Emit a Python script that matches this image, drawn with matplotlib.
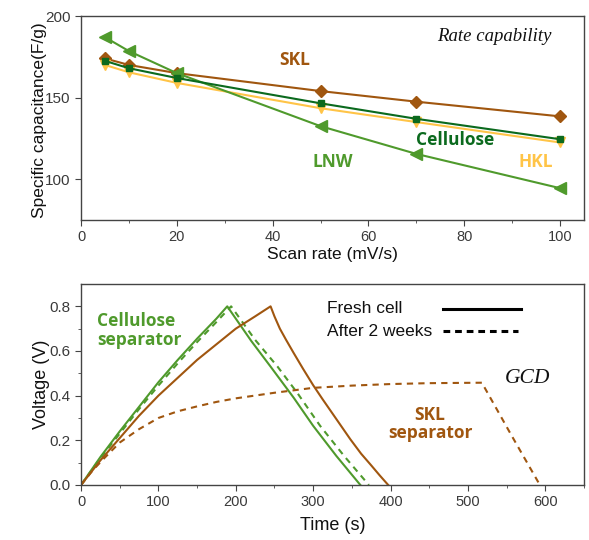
import matplotlib
matplotlib.use("Agg")
import matplotlib.pyplot as plt
from matplotlib.ticker import FormatStrFormatter

# ---------------- Data: rate capability ----------------
scan_rate = [5, 10, 20, 50, 70, 100]
skl_cap = [174, 170, 165, 154, 147.5, 138.5]
cellulose_cap = [172.5, 168, 162, 146.5, 137, 124.5]
hkl_cap = [170, 165.5, 159, 143.5, 135, 122.5]
lnw_cap = [187, 178.5, 165, 132.5, 115.5, 94.5]

# ---------------- Data: GCD ----------------
cell_fresh_t = [0, 25, 50, 75, 100, 125, 150, 175, 189, 220, 245, 275, 300, 330, 361]
cell_fresh_v = [0, 0.125, 0.24, 0.35, 0.46, 0.56, 0.655, 0.745, 0.80, 0.645, 0.53, 0.39, 0.265, 0.13, 0]
cell_aged_t = [0, 25, 50, 75, 100, 125, 150, 175, 194, 225, 254, 280, 309, 340, 372]
cell_aged_v = [0, 0.12, 0.23, 0.34, 0.445, 0.545, 0.64, 0.73, 0.80, 0.65, 0.53, 0.41, 0.265, 0.13, 0]
skl_fresh_t = [0, 25, 50, 75, 100, 125, 150, 175, 200, 225, 245,
               250, 257, 265, 275, 287, 300, 312, 325, 337, 348, 362, 375, 386, 397]
skl_fresh_v = [0, 0.11, 0.21, 0.31, 0.40, 0.48, 0.56, 0.63, 0.70, 0.755, 0.80,
               0.755, 0.70, 0.65, 0.59, 0.52, 0.447, 0.385, 0.32, 0.26, 0.205, 0.14, 0.088, 0.043, 0]
skl_aged_t = [0, 15, 30, 50, 75, 100, 125, 150, 175, 200, 250, 300, 350, 400, 450, 518, 555, 593]
skl_aged_v = [0, 0.065, 0.12, 0.19, 0.25, 0.30, 0.33, 0.352, 0.372, 0.388, 0.413, 0.435,
              0.445, 0.452, 0.456, 0.458, 0.23, 0]

legend_labels = ["Fresh cell", "After 2 weeks"]

# ---------------- Colours ----------------
BROWN = "#A0560F"
GREEN = "#4F9A2C"
DKGREEN = "#0B6A1E"
YELLOW = "#FFC447"
SPINE = "#444444"
TICK = "#3a3a3a"

plt.rcParams["font.family"] = ["Liberation Sans", "DejaVu Sans"]

fig = plt.figure(figsize=(5.89, 5.40), dpi=100)
ax1 = fig.add_axes([81/589, 1-220/540, (584-81)/589, (220-16)/540])
ax2 = fig.add_axes([81/589, 1-485/540, (584-81)/589, (485-284)/540])

for ax in (ax1, ax2):
    for s in ax.spines.values():
        s.set_color(SPINE)
        s.set_linewidth(1.0)
    ax.tick_params(which="both", direction="out", colors=SPINE, labelcolor=TICK)
    ax.tick_params(axis="x", labelsize=10.5)
    ax.tick_params(axis="y", labelsize=11)
    ax.tick_params(which="major", length=4)
    ax.tick_params(which="minor", length=2.5)

# ---------------- Top panel ----------------
lw = 1.5
ax1.plot(scan_rate, skl_cap, color=BROWN, lw=lw, marker="D", ms=6.5, zorder=3)
ax1.plot(scan_rate, hkl_cap, color=YELLOW, lw=lw, marker="v", ms=7.5, zorder=3)
ax1.plot(scan_rate, cellulose_cap, color=DKGREEN, lw=lw, marker="s", ms=4, zorder=4)
ax1.plot(scan_rate, lnw_cap, color=GREEN, lw=lw, marker="<", ms=8, zorder=3)

ax1.set_xlim(0, 105)
ax1.set_ylim(75, 200)
ax1.set_xticks([0, 20, 40, 60, 80, 100])
ax1.set_xticks([10, 30, 50, 70, 90], minor=True)
ax1.set_yticks([100, 150, 200])
ax1.set_xlabel("Scan rate (mV/s)", fontsize=12.5, color="#111111")
ax1.set_ylabel("Specific capacitance(F/g)", fontsize=12.5, color="#111111")
ax1.xaxis.set_label_coords(0.5, -0.13)
ax1.yaxis.set_label_coords(-0.068, 0.49)

bold = dict(fontsize=12.5, fontweight="bold", family=["Open Sans", "DejaVu Sans"], ha="center", va="center")
ax1.text(44.6, 173, "SKL", color=BROWN, **bold)
ax1.text(78.1, 124, "Cellulose", color=DKGREEN, **bold)
ax1.text(52.5, 110.4, "LNW", color=GREEN, **bold)
ax1.text(94.9, 110.4, "HKL", color=YELLOW, **bold)
ax1.text(86.3, 187.5, "Rate capability", fontsize=13.5, style="italic",
         family=["Liberation Serif", "DejaVu Serif"], ha="center", va="center", color="#111111")

# ---------------- Bottom panel ----------------
dash = (0, (3, 2.5))
ax2.plot(cell_fresh_t, cell_fresh_v, color=GREEN, lw=1.5)
ax2.plot(cell_aged_t, cell_aged_v, color=GREEN, lw=1.5, ls=dash)
ax2.plot(skl_fresh_t, skl_fresh_v, color=BROWN, lw=1.5)
ax2.plot(skl_aged_t, skl_aged_v, color=BROWN, lw=1.5, ls=dash)

ax2.set_xlim(0, 650)
ax2.set_ylim(0, 0.9)
ax2.set_xticks([0, 100, 200, 300, 400, 500, 600])
ax2.set_xticks([50, 150, 250, 350, 450, 550, 650], minor=True)
ax2.set_yticks([0.0, 0.2, 0.4, 0.6, 0.8])
ax2.set_yticks([0.1, 0.3, 0.5, 0.7], minor=True)
ax2.yaxis.set_major_formatter(FormatStrFormatter("%.1f"))
ax2.set_xlabel("Time (s)", fontsize=13, color="#111111")
ax2.set_ylabel("Voltage (V)", fontsize=13, color="#111111")
ax2.xaxis.set_label_coords(0.5, -0.16)
ax2.yaxis.set_label_coords(-0.062, 0.5)

ax2.text(20.7, 0.693, "Cellulose\nseparator", color=GREEN, ha="left", va="center",
         fontsize=12.5, fontweight="bold", family=["Open Sans", "DejaVu Sans"], linespacing=1.05)
ax2.text(451, 0.273, "SKL\nseparator", color=BROWN, ha="center", va="center",
         fontsize=12.5, fontweight="bold", family=["Open Sans", "DejaVu Sans"], linespacing=1.05)
ax2.text(577, 0.478, "GCD", fontsize=15.5, style="italic",
         family=["Liberation Serif", "DejaVu Serif"], ha="center", va="center", color="#111111")

# legend (text left, sample line right)
tr = ax2.transAxes
for label, yy, style, x1 in zip(legend_labels, [0.876, 0.766], ["-", (0, (2.2, 1.6))], [0.875, 0.869]):
    ax2.text(0.489, yy, label, transform=tr, fontsize=12.5, ha="left", va="center", color="#111111")
    ax2.plot([0.72, x1], [yy, yy], transform=tr, color="black", lw=2.2, ls=style)

fig.savefig("out.png", dpi=100)
